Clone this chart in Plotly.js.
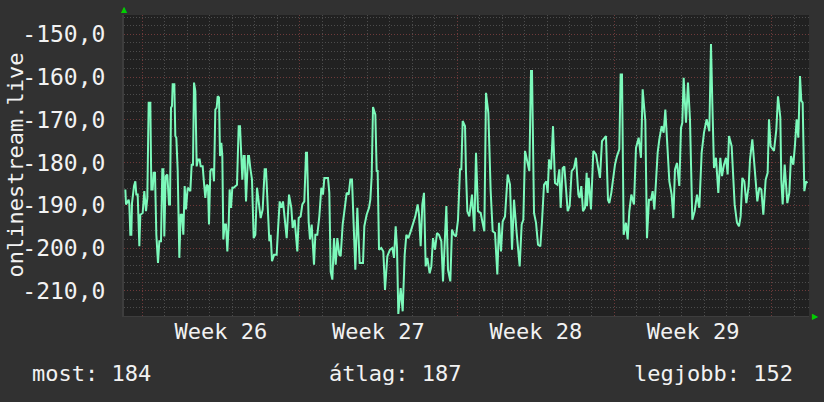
<!DOCTYPE html>
<html><head><meta charset="utf-8">
<script src="https://cdn.plot.ly/plotly-3.0.1.min.js"></script>
<style>html,body{margin:0;padding:0;background:#313131;}#chart{width:824px;height:402px;}</style>
</head><body><div id="chart"></div>
<script>
// time in days from the start of week 26, value of the series
const days = [
-0.750,-0.720,-0.602,-0.572,-0.527,-0.483,-0.453,-0.364,-0.305,-0.261,-0.201,-0.127,-0.083,0.021,0.095,0.169,0.228,0.288,0.362,0.406,
0.466,0.510,0.569,0.629,0.703,0.762,0.836,0.895,0.940,0.984,1.044,1.118,1.192,1.236,1.281,1.325,1.355,1.429,1.473,1.518,
1.577,1.651,1.711,1.770,1.829,1.888,1.948,2.022,2.140,2.200,2.259,2.303,2.363,2.422,2.481,2.555,2.600,2.689,2.748,2.807,
2.867,2.926,2.970,3.030,3.074,3.148,3.193,3.252,3.311,3.356,3.415,3.460,3.519,3.563,3.608,3.667,3.726,3.786,3.845,3.889,
3.949,4.008,4.067,4.141,4.215,4.290,4.349,
4.453,4.512,4.556,4.616,4.705,4.749,4.808,4.882,4.957,5.031,5.105,5.194,5.268,5.357,5.446,5.505,5.564,5.653,5.713,5.772,
5.861,5.979,6.039,6.113,6.187,6.261,6.335,6.424,6.528,6.631,6.691,6.780,6.898,6.958,7.046,7.121,7.209,7.284,7.328,7.402,
7.461,7.536,7.639,7.699,7.787,7.876,7.965,8.039,8.099,8.262,8.321,8.380,8.455,8.529,8.603,8.677,8.766,8.825,8.914,9.003,
9.092,9.181,9.255,9.329,9.418,9.477,
9.566,9.611,9.670,9.818,9.877,9.981,10.085,10.144,10.204,10.263,10.367,10.426,10.470,10.530,10.633,10.722,10.796,10.900,11.019,11.122,
11.197,11.271,11.330,11.389,11.493,11.582,11.671,11.745,11.834,11.938,12.041,12.145,12.249,12.308,12.382,12.456,12.530,12.605,12.679,12.782,
12.856,12.931,13.020,13.108,13.197,13.301,13.375,13.449,13.524,13.598,13.701,13.775,13.864,13.953,14.042,14.131,14.190,14.250,14.354,14.398,
14.457,14.546,
14.665,14.769,14.843,14.932,15.050,15.124,15.213,15.287,15.391,15.495,15.584,15.688,15.791,15.865,15.954,16.028,16.132,16.251,16.355,16.444,
16.532,16.651,16.784,16.873,16.947,17.022,17.125,17.214,17.288,17.333,17.422,17.511,17.600,17.703,17.777,17.866,17.970,18.029,18.089,18.178,
18.267,18.355,18.459,18.548,18.607,18.696,18.770,18.919,19.008,19.096,19.200,19.289,19.393,19.452,19.526,19.600,19.690,19.763,
19.777,19.852,19.955,20.059,20.178,20.252,20.355,20.444,20.622,20.711,20.770,20.859,20.948,21.022,21.111,21.215,21.274,21.334,21.408,21.512,
21.586,21.660,21.749,21.867,21.956,22.030,22.075,22.178,22.253,22.371,22.445,22.534,22.623,22.697,22.772,22.846,22.920,22.994,23.098,23.187,
23.261,23.335,23.439,23.542,23.616,23.690,23.779,23.883,23.957,24.016,24.076,24.180,24.268,24.357,24.461,24.565,24.669,24.772,24.876,24.980,
25.098,25.217,25.291,25.350,25.425,25.513,25.617,25.706,25.780,25.869,25.958,26.032,26.091,26.210,26.343,26.447,26.536,26.610,26.684,26.773,
26.862,26.966,27.025,27.129,27.248,27.351,27.440,27.529,27.618,27.722,27.811,27.870,27.944,28.092,28.196,28.270,28.374,28.418,28.478,28.567,
28.685,28.774,28.848,28.952,29.026,29.100,29.175,29.249,29.308,29.367,29.441,29.516,29.575
];
const values = [
-186.3,-189.8,-188.7,-189.8,-196.9,-196.9,-189.5,-185.5,-184.4,-187.5,-187.5,-199.6,-192.2,-191.8,-186.7,-191.4,-188.3,-166.0,-166.0,-186.3,
-186.3,-182.4,-182.4,-196.9,-203.5,-198.4,-198.4,-181.6,-181.6,-197.3,-183.2,-182.8,-189.8,-189.8,-167.2,-166.8,-161.7,-161.7,-173.8,-174.2,
-181.6,-202.3,-192.2,-192.2,-196.9,-185.5,-191.0,-185.9,-186.7,-180.5,-180.5,-161.3,-163.3,-180.9,-179.3,-179.3,-180.9,-180.9,-184.8,-188.3,
-185.2,-185.5,-194.5,-182.0,-181.6,-181.6,-184.4,-167.6,-167.2,-164.5,-164.8,-178.5,-175.4,-178.5,-198.0,-194.5,-194.5,-200.8,-194.5,-186.3,
-190.6,-185.9,-185.9,-185.5,-185.2,-171.5,-171.5,
-184.0,-178.5,-178.5,-189.1,-178.5,-178.5,-181.3,-184.0,-197.7,-196.9,-185.9,-190.6,-193.0,-191.0,-181.6,-181.6,-189.8,-198.4,-196.9,-203.1,
-201.6,-201.6,-195.7,-189.1,-190.6,-189.1,-193.0,-197.7,-187.5,-190.6,-195.3,-193.4,-200.8,-193.0,-192.6,-189.8,-189.1,-177.7,-177.7,-193.8,
-198.0,-194.5,-203.9,-196.9,-196.9,-192.6,-185.9,-187.5,-183.6,-183.6,-187.1,-205.5,-207.4,-197.7,-203.9,-197.7,-201.6,-201.9,-194.5,-190.6,
-187.1,-187.5,-184.0,-184.0,-196.9,-205.1,
-190.6,-194.9,-203.5,-203.5,-194.9,-192.2,-190.6,-188.7,-183.2,-167.0,-168.8,-182.0,-182.0,-200.4,-200.0,-200.8,-209.8,-201.9,-200.4,-200.0,
-202.3,-194.9,-200.0,-215.4,-209.4,-214.8,-201.6,-196.9,-197.7,-196.1,-194.1,-192.6,-189.8,-192.2,-199.6,-189.8,-187.1,-204.3,-202.3,-205.9,
-204.3,-197.7,-200.4,-196.5,-196.9,-198.4,-207.8,-198.8,-190.2,-205.1,-207.8,-195.7,-196.9,-197.3,-193.4,-181.6,-181.6,-170.3,-171.5,-182.4,
-191.4,-192.6,
-187.5,-196.1,-177.7,-191.4,-191.8,-193.8,-196.1,-163.7,-168.4,-186.7,-196.1,-196.5,-206.2,-194.1,-200.8,-193.8,-192.6,-182.8,-185.2,-200.4,
-188.7,-196.5,-204.3,-194.5,-193.4,-177.3,-179.7,-182.0,-158.6,-158.6,-191.8,-194.1,-199.2,-199.6,-193.8,-185.2,-184.4,-187.1,-179.3,-181.6,
-171.5,-184.8,-185.2,-181.6,-190.6,-181.3,-180.9,-191.4,-190.2,-182.0,-181.3,-178.9,-187.5,-188.3,-185.5,-191.4,-190.6,-182.4,
-190.2,-183.6,-191.0,-177.3,-178.1,-180.1,-183.6,-175.0,-173.8,-188.7,-189.5,-187.1,-183.2,-180.5,-178.5,-176.9,-159.4,-159.4,-196.9,-194.1,
-198.0,-191.4,-187.5,-189.8,-176.6,-175.4,-174.2,-178.9,-162.9,-170.3,-197.7,-188.7,-188.7,-186.7,-191.0,-184.4,-177.7,-174.6,-171.5,-173.0,
-167.6,-174.6,-184.4,-187.5,-193.0,-181.6,-180.1,-185.5,-171.9,-170.7,-160.2,-170.7,-161.3,-169.9,-193.4,-191.4,-187.5,-190.6,-177.7,-173.0,
-169.9,-172.7,-152.3,-166.0,-181.3,-178.9,-187.1,-178.9,-183.2,-180.5,-178.9,-182.8,-173.8,-176.2,-189.8,-194.1,-194.9,-192.6,-183.6,-184.4,
-189.5,-185.5,-179.3,-174.6,-182.8,-189.1,-185.9,-186.3,-192.2,-184.0,-182.4,-169.9,-176.2,-177.3,-172.3,-164.5,-169.5,-184.0,-189.8,-180.5,
-189.5,-187.1,-178.5,-180.5,-175.8,-169.9,-174.2,-159.8,-165.6,-166.0,-186.7,-184.4,-184.8
];
const weekStarts = [0, 7, 14, 21, 28];
const weekMids = [3.5, 10.5, 17.5, 24.5];
const weekLabels = ['Week 26', 'Week 27', 'Week 28', 'Week 29'];
const yTickVals = [-150, -160, -170, -180, -190, -200, -210];
const yTitle = 'onlinestream.live';
const summaryLabels = ['most: 184', '\u00e1tlag: 187', 'legjobb: 152'];

const yTickText = yTickVals.map(v => v.toFixed(1).replace('.', ','));
const FONT = 'DejaVu Sans Mono';
const TXT = '#f2f2f2';
const xRange = [-0.809, 29.649];
const yRange = [-215.9, -145.5];
const redGrid = '#6e3a3a';
const grayGrid = '#4c4c4c';
const dots = '1px,2px';

// data trace on the gridded axis
const trace = {
  x: days, y: values, xaxis: 'x', yaxis: 'y',
  type: 'scatter', mode: 'lines',
  line: {color: '#7cf9bb', width: 2},
  hoverinfo: 'skip'
};
// empty helper trace so the week-label axis is laid out
const labelAxisTrace = {
  x: weekMids, y: weekMids.map(() => null), xaxis: 'x2', yaxis: 'y',
  type: 'scatter', mode: 'lines', hoverinfo: 'skip', showlegend: false
};

const layout = {
  width: 824, height: 402,
  margin: {l: 124, r: 15, t: 15, b: 86, pad: 0},
  paper_bgcolor: '#313131', plot_bgcolor: '#212121',
  showlegend: false,
  font: {family: FONT, color: TXT, size: 22},
  xaxis: {
    range: xRange, tickmode: 'array', tickvals: weekStarts, showticklabels: false,
    ticks: '', showgrid: true, gridcolor: redGrid, griddash: dots, gridwidth: 1,
    zeroline: false, showline: true, linecolor: '#3d3d3d', linewidth: 1, mirror: false,
    minor: {dtick: 1, tick0: 0, showgrid: true, gridcolor: grayGrid, griddash: dots, gridwidth: 1, ticks: ''}
  },
  xaxis2: {
    overlaying: 'x', anchor: 'y', side: 'bottom', range: xRange,
    tickmode: 'array', tickvals: weekMids, ticktext: weekLabels,
    showgrid: false, zeroline: false, showline: false, ticks: '',
    tickfont: {family: FONT, color: TXT, size: 22}, ticklabelstandoff: 0
  },
  yaxis: {
    range: yRange, tickmode: 'array', tickvals: yTickVals, ticktext: yTickText,
    ticks: '', showgrid: true, gridcolor: redGrid, griddash: dots, gridwidth: 1,
    zeroline: false, showline: true, linecolor: '#3d3d3d', linewidth: 2,
    tickfont: {family: FONT, color: TXT, size: 23}, ticklabelstandoff: 12,
    minor: {dtick: 2, tick0: -150, showgrid: true, gridcolor: grayGrid, griddash: dots, gridwidth: 1, ticks: ''}
  },
  annotations: [
    {text: yTitle, xref: 'paper', yref: 'paper', x: -0.159, y: 0.5, xanchor: 'center', yanchor: 'middle',
     textangle: -90, borderpad: 0, showarrow: false, font: {family: FONT, color: TXT, size: 22}},
    {text: summaryLabels[0], xref: 'paper', yref: 'paper', x: -0.137, y: -0.19, xanchor: 'left', yanchor: 'middle',
     showarrow: false, font: {family: FONT, color: TXT, size: 22}},
    {text: summaryLabels[1], xref: 'paper', yref: 'paper', x: 0.296, y: -0.19, xanchor: 'left', yanchor: 'middle',
     showarrow: false, font: {family: FONT, color: TXT, size: 22}},
    {text: summaryLabels[2], xref: 'paper', yref: 'paper', x: 0.979, y: -0.19, xanchor: 'right', yanchor: 'middle',
     showarrow: false, font: {family: FONT, color: TXT, size: 22}},
    {text: '\u25B2', xref: 'paper', yref: 'paper', x: 0.0, y: 1.017, xanchor: 'center', yanchor: 'middle',
     showarrow: false, font: {family: 'DejaVu Sans', color: '#00d000', size: 8}},
    {text: '\u25B6', xref: 'paper', yref: 'paper', x: 1.009, y: 0.0, xanchor: 'center', yanchor: 'middle',
     showarrow: false, font: {family: 'DejaVu Sans', color: '#00d000', size: 8}}
  ]
};

Plotly.newPlot('chart', [trace, labelAxisTrace], layout, {staticPlot: true, displayModeBar: false});
</script>
</body></html>
